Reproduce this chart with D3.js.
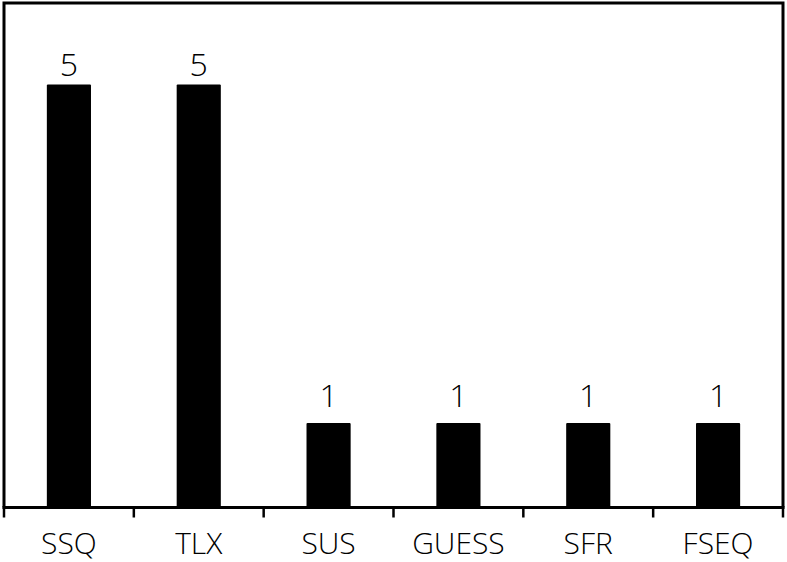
<!DOCTYPE html>
<html><head><meta charset="utf-8">
<script src="https://cdn.jsdelivr.net/npm/d3@7"></script>
<style>body{margin:0;background:#fff}svg{display:block}</style>
</head><body>
<script>
const categories = ["SSQ","TLX","SUS","GUESS","SFR","FSEQ"];
const values = [5,5,1,1,1,1];

const W = 787, H = 562;
const mLeft = 4, mRight = 783, mTop = 3, base = 507.5;
const svg = d3.select("body").append("svg").attr("width", W).attr("height", H);

const x = d3.scaleBand().domain(categories).range([mLeft, mRight]).paddingInner(0.66).paddingOuter(0.33);
const y = d3.scaleLinear().domain([0, 6]).range([base, base - 6*84.6]);

// frame
svg.append("path")
  .attr("d", `M${mLeft},${base}V${mTop}H${mRight}V${base}`)
  .attr("fill","none").attr("stroke","#000").attr("stroke-width",3);

svg.selectAll("rect.bar").data(categories).join("rect")
  .attr("class","bar")
  .attr("x", d => x(d)).attr("width", x.bandwidth())
  .attr("y", (d,i) => y(values[i])).attr("height", (d,i) => y(0) - y(values[i]))
  .attr("fill","#000").attr("rx",1);

svg.selectAll("text.val").data(categories).join("text")
  .attr("class","val")
  .attr("x", d => x(d) + x.bandwidth()/2)
  .attr("y", (d,i) => y(values[i]) - (values[i] > 2 ? 9 : 16))
  .attr("text-anchor","middle")
  .attr("font-family","'Open Sans', sans-serif").attr("font-size",32).attr("font-weight",300)
  .text((d,i) => values[i]);

// axis line
svg.append("line").attr("x1",mLeft-1.5).attr("x2",mRight+1.5).attr("y1",base).attr("y2",base)
  .attr("stroke","#000").attr("stroke-width",3);

// ticks at band boundaries
const bounds = d3.range(categories.length+1).map(i => mLeft + i*(mRight-mLeft)/categories.length);
svg.selectAll("line.tick").data(bounds).join("line")
  .attr("x1", d=>d).attr("x2", d=>d).attr("y1", base).attr("y2", base+10)
  .attr("stroke","#000").attr("stroke-width",2.5);

svg.selectAll("text.cat").data(categories).join("text")
  .attr("class","cat")
  .attr("x", d => x(d) + x.bandwidth()/2)
  .attr("y", 554)
  .attr("text-anchor","middle")
  .attr("font-family","'Open Sans', sans-serif").attr("font-size",30).attr("font-weight",300)
  .text(d => d);
</script>
</body></html>
